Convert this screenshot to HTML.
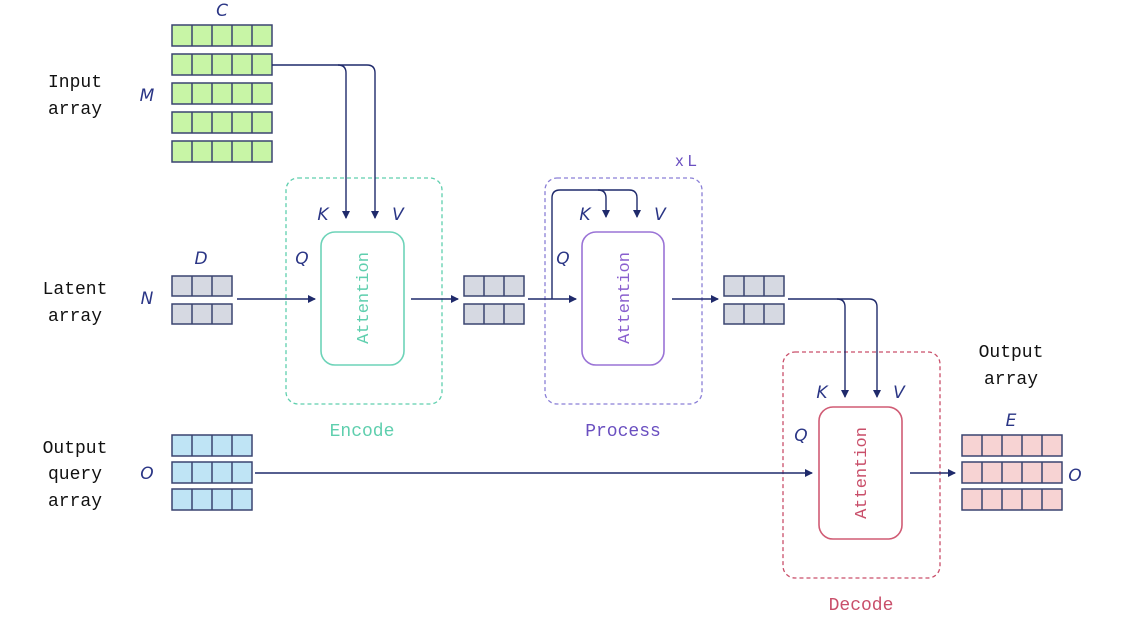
<!DOCTYPE html>
<html><head><style>
body{margin:0;background:#fff;}
svg{display:block;}
.mono{font-family:"Liberation Mono","DejaVu Sans Mono",monospace;}
.it{font-family:"DejaVu Sans","Liberation Sans",sans-serif;font-style:italic;fill:#2a3585;font-size:17px;}
</style></head><body>
<svg width="1128" height="628" viewBox="0 0 1128 628" xmlns="http://www.w3.org/2000/svg">
<defs>
<marker id="ar" markerWidth="8" markerHeight="8" refX="7" refY="4" orient="auto" markerUnits="userSpaceOnUse">
<path d="M0,0 L8,4 L0,8 Z" fill="#1f2a6b"/></marker>
</defs>
<g class="mono" font-size="18" fill="#111" text-anchor="middle">
<text x="75" y="87">Input</text><text x="75" y="114">array</text>
<text x="75" y="294">Latent</text><text x="75" y="321">array</text>
<text x="75" y="453">Output</text><text x="75" y="479">query</text><text x="75" y="506">array</text>
<text x="1011" y="357">Output</text><text x="1011" y="384">array</text>
</g>
<g text-anchor="middle">
<text class="it" x="222" y="16">C</text>
<text class="it" x="147" y="101">M</text>
<text class="it" x="201" y="264">D</text>
<text class="it" x="147" y="304">N</text>
<text class="it" x="147" y="479">O</text>
<text class="it" x="323" y="220">K</text><text class="it" x="398" y="220">V</text><text class="it" x="302" y="264">Q</text>
<text class="it" x="585" y="220">K</text><text class="it" x="660" y="220">V</text><text class="it" x="563" y="264">Q</text>
<text class="it" x="822" y="398">K</text><text class="it" x="899" y="398">V</text><text class="it" x="801" y="441">Q</text>
<text class="it" x="1011" y="426">E</text>
<text class="it" x="1075" y="481">O</text>
</g>
<g stroke="#3a4470" stroke-width="1.5">
<g fill="#c8f5a6">
<rect x="172" y="25" width="100" height="21"/><rect x="172" y="54" width="100" height="21"/><rect x="172" y="83" width="100" height="21"/><rect x="172" y="112" width="100" height="21"/><rect x="172" y="141" width="100" height="21"/>
</g>
<path d="M192 25V46M212 25V46M232 25V46M252 25V46M192 54V75M212 54V75M232 54V75M252 54V75M192 83V104M212 83V104M232 83V104M252 83V104M192 112V133M212 112V133M232 112V133M252 112V133M192 141V162M212 141V162M232 141V162M252 141V162" fill="none"/>
<g fill="#d6d9e2">
<rect x="172" y="276" width="60" height="20"/><rect x="172" y="304" width="60" height="20"/>
<rect x="464" y="276" width="60" height="20"/><rect x="464" y="304" width="60" height="20"/>
<rect x="724" y="276" width="60" height="20"/><rect x="724" y="304" width="60" height="20"/>
</g>
<path d="M192 276V296M212 276V296M192 304V324M212 304V324M484 276V296M504 276V296M484 304V324M504 304V324M744 276V296M764 276V296M744 304V324M764 304V324" fill="none"/>
<g fill="#bfe4f5">
<rect x="172" y="435" width="80" height="21"/><rect x="172" y="462" width="80" height="21"/><rect x="172" y="489" width="80" height="21"/>
</g>
<path d="M192 435V456M212 435V456M232 435V456M192 462V483M212 462V483M232 462V483M192 489V510M212 489V510M232 489V510" fill="none"/>
<g fill="#f7d3d3">
<rect x="962" y="435" width="100" height="21"/><rect x="962" y="462" width="100" height="21"/><rect x="962" y="489" width="100" height="21"/>
</g>
<path d="M982 435V456M1002 435V456M1022 435V456M1042 435V456M982 462V483M1002 462V483M1022 462V483M1042 462V483M982 489V510M1002 489V510M1022 489V510M1042 489V510" fill="none"/>
</g>
<rect x="286" y="178" width="156" height="226" rx="12" fill="none" stroke="#5fcfae" stroke-width="1.3" stroke-dasharray="4,3"/>
<rect x="545" y="178" width="157" height="226" rx="12" fill="none" stroke="#8a7fd6" stroke-width="1.3" stroke-dasharray="4,3"/>
<rect x="783" y="352" width="157" height="226" rx="12" fill="none" stroke="#c94f6a" stroke-width="1.3" stroke-dasharray="4,3"/>
<rect x="321" y="232" width="83" height="133" rx="14" fill="#fff" stroke="#6dd3b8" stroke-width="1.6"/>
<rect x="582" y="232" width="82" height="133" rx="14" fill="#fff" stroke="#9a73d6" stroke-width="1.6"/>
<rect x="819" y="407" width="83" height="132" rx="14" fill="#fff" stroke="#d05b74" stroke-width="1.6"/>
<g class="mono" font-size="17" text-anchor="middle">
<text transform="translate(368,298) rotate(-90)" fill="#5fcfae">Attention</text>
<text transform="translate(629,298) rotate(-90)" fill="#8a5fcf">Attention</text>
<text transform="translate(866,473) rotate(-90)" fill="#c94f6a">Attention</text>
<text x="362" y="436" fill="#5fcfae" font-size="18">Encode</text>
<text x="623" y="436" fill="#6a4fc0" font-size="18">Process</text>
<text x="861" y="610" fill="#c94f6a" font-size="18">Decode</text>
<text x="686" y="166" fill="#6a4fc0" font-size="16" font-family="Liberation Sans,sans-serif">x L</text>
</g>
<g fill="none" stroke="#1f2a6b" stroke-width="1.4" marker-end="url(#ar)">
<path d="M272 65H338Q346 65 346 73V218"/>
<path d="M338 65H367Q375 65 375 73V218"/>
<path d="M237 299H315"/>
<path d="M411 299H458"/>
<path d="M528 299H576"/>
<path d="M552 299V198Q552 190 560 190H598Q606 190 606 198V217"/>
<path d="M598 190H629Q637 190 637 198V217"/>
<path d="M672 299H718"/>
<path d="M788 299H837Q845 299 845 307V397"/>
<path d="M837 299H869Q877 299 877 307V397"/>
<path d="M255 473H812"/>
<path d="M910 473H955"/>
</g>
</svg>
</body></html>
